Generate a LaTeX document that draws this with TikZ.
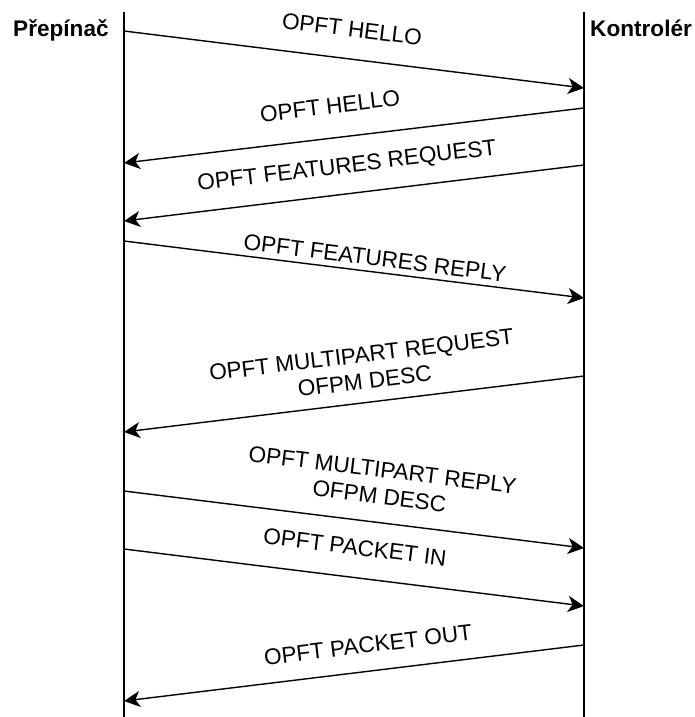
\documentclass[tikz,border=0pt]{standalone}
\usepackage{fontspec}
\setmainfont{Liberation Sans}
\usetikzlibrary{arrows.meta}

\tikzset{
  actor/.style={inner sep=0pt,font=\fontsize{22.6}{26.5}\selectfont\bfseries},
  msglabel/.style={inner sep=0pt,font=\fontsize{22.6}{26.5}\selectfont,align=center},
  lifeline/.style={draw=black,line width=1.4pt}
}

\begin{document}
\begin{tikzpicture}[x=1pt,y=-1pt]
\useasboundingbox (0,0) rectangle (694,717);

\begin{scope}[every node/.style={actor,anchor=base west}]
  \node (sw) at (13,37) {Přepínač};
  \node (ctl) at (590,37) {Kontrolér};
\end{scope}

% lifelines
\coordinate (swtop) at (124,12);
\coordinate (swbot) at (124,717);
\coordinate (ctltop) at (584,12);
\coordinate (ctlbot) at (584,717);
\draw[lifeline] (swtop) -- (swbot);
\draw[lifeline] (ctltop) -- (ctlbot);

% message ends on the lifelines
\coordinate (s1) at (124,31);  \coordinate (c1) at (584,88);
\coordinate (c2) at (584,108); \coordinate (s2) at (124,163);
\coordinate (c3) at (584,165); \coordinate (s3) at (124,221);
\coordinate (s4) at (124,241); \coordinate (c4) at (584,298);
\coordinate (c5) at (584,376); \coordinate (s5) at (124,432);
\coordinate (s6) at (124,491); \coordinate (c6) at (584,548);
\coordinate (s7) at (124,549); \coordinate (c7) at (584,606);
\coordinate (c8) at (584,645); \coordinate (s8) at (124,701);

\begin{scope}[every edge/.style={draw=black,line width=1.4pt,
    -{Stealth[length=16pt,width=16pt,inset=4.5pt]}}]
  \path (s1) edge (c1);
  \path (c2) edge (s2);
  \path (c3) edge (s3);
  \path (s4) edge (c4);
  \path (c5) edge (s5);
  \path (s6) edge (c6);
  \path (s7) edge (c7);
  \path (c8) edge (s8);
\end{scope}

\begin{scope}[every node/.style={msglabel}]
  \node[rotate=-7.06] (m1) at (352,29) {OPFT HELLO};
  \node[rotate=6.9] (m2) at (330,106) {OPFT HELLO};
  \node[rotate=6.9] (m3) at (347,167) {OPFT FEATURES REQUEST};
  \node[rotate=-7.06] (m4) at (375,258) {OPFT FEATURES REPLY};
  \node[rotate=6.9] (m5) at (363,368) {OPFT MULTIPART REQUEST\\OFPM DESC};
  \node[rotate=-7.06] (m6) at (381,483) {OPFT MULTIPART REPLY\\OFPM DESC};
  \node[rotate=-7.06] (m7) at (355,547) {OPFT PACKET IN};
  \node[rotate=6.9] (m8) at (368,645) {OPFT PACKET OUT};
\end{scope}
\end{tikzpicture}
\end{document}
